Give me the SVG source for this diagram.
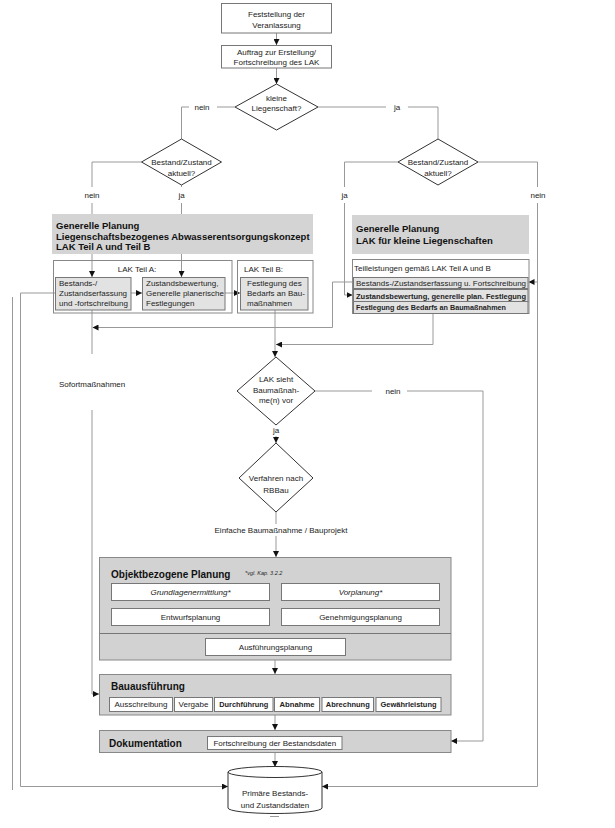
<svg xmlns="http://www.w3.org/2000/svg" width="615" height="828" viewBox="0 0 615 828">
<defs>
<marker id="ah" viewBox="0 0 6 6" refX="6" refY="3" markerWidth="6" markerHeight="6" orient="auto" markerUnits="userSpaceOnUse"><path d="M0,0 L6,3 L0,6 z" fill="#111"/></marker>
<style>
text{font-family:"Liberation Sans",Arial,sans-serif;font-size:8px;fill:#222}
.c{text-anchor:middle}
.b{font-weight:bold}
.i{font-style:italic}
.t{font-size:9.5px;font-weight:bold;fill:#111}
.h{font-size:10px;font-weight:bold;fill:#111}
.box{fill:#fff;stroke:#777;stroke-width:1}
.frame{fill:none;stroke:#888;stroke-width:1}
.sub{fill:#e2e2e2;stroke:#777;stroke-width:1}
.gray{fill:#d4d4d4}
.panel{fill:#d2d2d2;stroke:#888;stroke-width:1}
.dia{fill:#fff;stroke:#333;stroke-width:1}
.ln{fill:none;stroke:#999;stroke-width:1}
.arr{fill:none;stroke:#999;stroke-width:1;marker-end:url(#ah)}
.bg{fill:#fff}
</style>
</defs>
<rect width="615" height="828" fill="#fff"/>

<g id="connectors">
<path class="arr" d="M276.5,33 V45"/>
<path class="arr" d="M276.5,68 V84"/>
<path class="ln" d="M235,107 H181.5 V139"/>
<path class="ln" d="M318,107 H438 V139"/>
<path class="arr" d="M141.5,162 H92 V277"/>
<path class="arr" d="M181.5,185 V277"/>
<path class="arr" d="M131,293 H142"/>
<path class="arr" d="M225,293 H240"/>
<path class="arr" d="M55,293 H20.5 V786.5 H228"/>
<path class="ln" d="M12.5,297 V790"/>
<path class="arr" d="M92,310 V694 H99"/>
<path class="arr" d="M353,282 H332.5 V327.5 H92.5"/>
<path class="arr" d="M275,310 V357"/>
<path class="arr" d="M433,313 V344.5 H276"/>
<path class="arr" d="M478,162 H537.5 V786.5 H322"/>
<path class="arr" d="M537.5,282 H528.5"/>
<path class="arr" d="M398,162 H344.5 V295 H352.5"/>
<path class="arr" d="M315,391 H483 V741 H451"/>
<path class="arr" d="M276,425 V443"/>
<path class="arr" d="M276,512 V557"/>
<path class="arr" d="M275,660 V674"/>
<path class="arr" d="M275,715 V730"/>
<path class="arr" d="M275,752 V767"/>
<path class="ln" d="M270,816.5 H279"/>
</g>

<g id="labels">
<rect class="bg" x="189" y="101" width="28" height="12"/><text x="202" y="110" class="c">nein</text>
<rect class="bg" x="386" y="101" width="22" height="12"/><text x="397" y="110" class="c">ja</text>
<rect class="bg" x="80" y="187" width="24" height="16"/><text x="92" y="198" class="c">nein</text>
<rect class="bg" x="172" y="187" width="20" height="16"/><text x="181.5" y="198" class="c">ja</text>
<rect class="bg" x="335" y="187" width="20" height="16"/><text x="344.5" y="198" class="c">ja</text>
<rect class="bg" x="525" y="187" width="26" height="16"/><text x="538" y="198" class="c">nein</text>
<rect class="bg" x="56" y="354" width="74" height="56"/><text x="59" y="386.5">Sofortmaßnahmen</text>
<rect class="bg" x="372" y="385" width="35" height="12"/><text x="393" y="394" class="c">nein</text>
<rect class="bg" x="268" y="424" width="16" height="12"/><text x="276" y="432.5" class="c">ja</text>
<rect class="bg" x="212" y="524" width="138" height="12"/><text x="281" y="533" class="c">Einfache Baumaßnahme / Bauprojekt</text>
</g>

<g id="n-feststellung">
<rect class="box" x="221.5" y="3.5" width="110" height="29.5"/>
<text x="276.5" y="17" class="c">Feststellung der</text>
<text x="276.5" y="27.5" class="c">Veranlassung</text>
</g>
<g id="n-auftrag">
<rect class="box" x="221.5" y="45.5" width="110" height="22.5"/>
<text x="276.5" y="55" class="c">Auftrag zur Erstellung/</text>
<text x="276.5" y="65" class="c">Fortschreibung des LAK</text>
</g>
<g id="n-kleine">
<polygon class="dia" points="276.5,84 318,107 276.5,130 235,107"/>
<text x="276.5" y="101" class="c">kleine</text>
<text x="276.5" y="111" class="c">Liegenschaft?</text>
</g>
<g id="n-bestand-links">
<polygon class="dia" points="181.5,139 221.5,162 181.5,185 141.5,162"/>
<text x="181.5" y="165" class="c">Bestand/Zustand</text>
<text x="181.5" y="175.5" class="c">aktuell?</text>
</g>
<g id="n-bestand-rechts">
<polygon class="dia" points="438,139 478,162 438,185 398,162"/>
<text x="438" y="165" class="c">Bestand/Zustand</text>
<text x="438" y="175.5" class="c">aktuell?</text>
</g>

<g id="n-generelle-planung-lak">
<rect class="gray" x="52" y="214" width="261" height="40"/>
<text x="56" y="228.5" class="t">Generelle Planung</text>
<text x="56" y="239.5" class="t">Liegenschaftsbezogenes Abwasserentsorgungskonzept</text>
<text x="56" y="250" class="t">LAK Teil A und Teil B</text>
</g>
<g id="n-lak-teil-a">
<rect class="frame" x="53.5" y="260.5" width="178.5" height="52.5"/>
<text x="137" y="272" class="c">LAK Teil A:</text>
</g>
<g id="n-bestandserfassung">
<rect class="sub" x="55.5" y="277.5" width="75.5" height="32.5"/>
<text x="59" y="286">Bestands-/</text>
<text x="59" y="296">Zustandserfassung</text>
<text x="59" y="306">und -fortschreibung</text>
</g>
<g id="n-zustandsbewertung">
<rect class="sub" x="142.5" y="277.5" width="82.5" height="32.5"/>
<text x="146" y="286">Zustandsbewertung,</text>
<text x="146" y="296">Generelle planerische</text>
<text x="146" y="306">Festlegungen</text>
</g>
<g id="n-lak-teil-b">
<rect class="frame" x="237.5" y="260.5" width="75.5" height="52.5"/>
<text x="244" y="272">LAK Teil B:</text>
</g>
<g id="n-festlegung-bedarf">
<rect class="sub" x="240.5" y="277.5" width="67.5" height="32.5"/>
<text x="247" y="286">Festlegung des</text>
<text x="247" y="296">Bedarfs an Bau-</text>
<text x="247" y="306">maßnahmen</text>
</g>

<g id="n-generelle-planung-klein">
<rect class="gray" x="352" y="215" width="177" height="39"/>
<text x="356" y="231.5" class="t">Generelle Planung</text>
<text x="356" y="243.5" class="t">LAK für kleine Liegenschaften</text>
</g>
<g id="n-teilleistungen">
<rect class="frame" x="352.5" y="259.5" width="176.5" height="54"/>
<text x="354" y="271">Teilleistungen gemäß LAK Teil A und B</text>
<rect class="sub" x="353.5" y="277.5" width="174.5" height="11"/>
<text x="356" y="285.5" textLength="170" lengthAdjust="spacingAndGlyphs">Bestands-/Zustandserfassung u. Fortschreibung</text>
<rect class="sub" x="353.5" y="289.5" width="174.5" height="12"/>
<text x="356" y="298.5" class="b" textLength="170" lengthAdjust="spacingAndGlyphs">Zustandsbewertung, generelle plan. Festlegung</text>
<rect class="sub" x="353.5" y="301.5" width="174.5" height="12"/>
<text x="356" y="310" class="b" textLength="150" lengthAdjust="spacingAndGlyphs">Festlegung des Bedarfs an Baumaßnahmen</text>
</g>

<g id="n-lak-sieht">
<polygon class="dia" points="276,357 315,391 276,425 237,391"/>
<text x="276" y="382" class="c">LAK sieht</text>
<text x="276" y="392.5" class="c">Baumaßnah-</text>
<text x="276" y="403" class="c">me(n) vor</text>
</g>
<g id="n-verfahren">
<polygon class="dia" points="276,443 313,478 276,512 239,478"/>
<text x="276" y="481" class="c">Verfahren nach</text>
<text x="276" y="493" class="c">RBBau</text>
</g>

<g id="n-objektbezogene-planung">
<rect class="panel" x="99.5" y="557.5" width="351.5" height="102.5"/>
<line x1="99.5" y1="633.5" x2="451" y2="633.5" stroke="#777" stroke-width="1"/>
<text x="111" y="578" class="h">Objektbezogene Planung</text>
<text x="245" y="575" class="i" style="font-size:5.5px">*vgl. Kap. 3.2.2</text>
<rect class="box" x="111.5" y="583.5" width="158" height="17"/>
<text x="190.5" y="594.5" class="c i">Grundlagenermittlung*</text>
<rect class="box" x="281.5" y="583.5" width="158" height="17"/>
<text x="360.5" y="594.5" class="c i">Vorplanung*</text>
<rect class="box" x="111.5" y="608.5" width="158" height="17"/>
<text x="190.5" y="619.5" class="c">Entwurfsplanung</text>
<rect class="box" x="281.5" y="608.5" width="158" height="17"/>
<text x="360.5" y="619.5" class="c">Genehmigungsplanung</text>
<rect class="box" x="205.5" y="638.5" width="140" height="17"/>
<text x="275.5" y="649.5" class="c">Ausführungsplanung</text>
</g>

<g id="n-bauausfuehrung">
<rect class="panel" x="99.5" y="674.5" width="351.5" height="40.5"/>
<text x="111" y="690" class="h">Bauausführung</text>
<rect class="box" x="109.5" y="697.5" width="63" height="14"/>
<text x="141" y="707" class="c">Ausschreibung</text>
<rect class="box" x="174.5" y="697.5" width="38" height="14"/>
<text x="193.5" y="707" class="c">Vergabe</text>
<rect class="box" x="214.5" y="697.5" width="58.5" height="14"/>
<text x="243.75" y="707" class="c b" textLength="49" lengthAdjust="spacingAndGlyphs">Durchführung</text>
<rect class="box" x="274.5" y="697.5" width="45" height="14"/>
<text x="297" y="707" class="c b" textLength="35" lengthAdjust="spacingAndGlyphs">Abnahme</text>
<rect class="box" x="322" y="697.5" width="51.5" height="14"/>
<text x="347.75" y="707" class="c b" textLength="44" lengthAdjust="spacingAndGlyphs">Abrechnung</text>
<rect class="box" x="376" y="697.5" width="65" height="14"/>
<text x="408.5" y="707" class="c b" textLength="56" lengthAdjust="spacingAndGlyphs">Gewährleistung</text>
</g>

<g id="n-dokumentation">
<rect class="panel" x="99.5" y="730.5" width="351.5" height="22"/>
<text x="109" y="747" class="h">Dokumentation</text>
<rect class="box" x="207.5" y="736.5" width="134.5" height="13"/>
<text x="274.75" y="745.5" class="c">Fortschreibung der Bestandsdaten</text>
</g>

<g id="n-primaere-daten">
<path d="M228,772 V808 A47,5.5 0 0 0 322,808 V772" fill="#fff" stroke="#333" stroke-width="1"/>
<ellipse cx="275" cy="772" rx="47" ry="5.5" fill="#fff" stroke="#333" stroke-width="1"/>
<text x="275" y="796" class="c">Primäre Bestands-</text>
<text x="275" y="807.5" class="c">und Zustandsdaten</text>
</g>
</svg>
